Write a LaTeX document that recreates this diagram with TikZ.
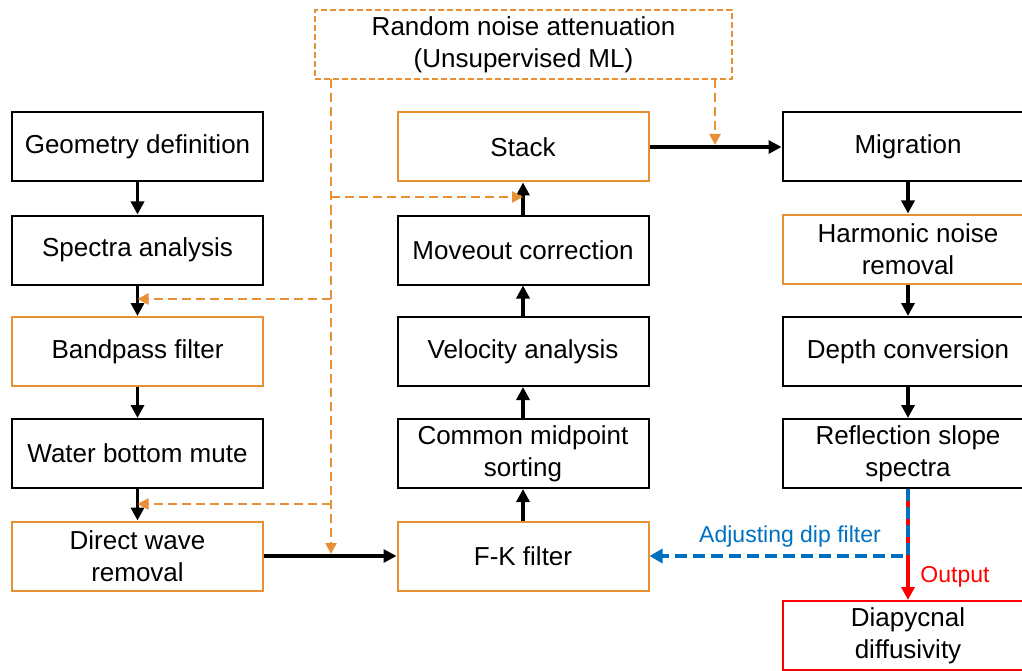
\documentclass[tikz,border=0pt]{standalone}
\usepackage{fontspec}
\setmainfont{Liberation Sans}
\usetikzlibrary{arrows.meta}
\definecolor{boxorange}{RGB}{232,145,52}
\definecolor{dipblue}{RGB}{0,112,192}
\definecolor{outred}{RGB}{255,0,0}

\begin{document}
\begin{tikzpicture}[x=1pt,y=-1pt,
    box/.style={draw,line width=2pt,minimum width=251pt,minimum height=69pt,
      align=center,inner sep=2pt,font=\fontsize{26pt}{32pt}\selectfont},
    obox/.style={box,draw=boxorange},
    flow/.style={line width=3.5pt,-{Triangle[length=13pt,width=13pt]}},
    noise/.style={boxorange,line width=2.5pt,dash pattern=on 9pt off 5pt,
      -{Triangle[length=11pt,width=11pt]}},
    lbl/.style={font=\fontsize{23pt}{26pt}\selectfont}]
  \clip (0,0) rectangle (1022,671);
  % top box
  \node[obox,dash pattern=on 6pt off 3pt,minimum width=417pt] (rna) at (523.5,45)
    {Random noise attenuation\\(Unsupervised ML)};
  % left column
  \node[box]  (geo)  at (137.5,147)   {Geometry definition};
  \node[box]  (spec) at (137.5,250)   {Spectra analysis};
  \node[obox] (bp)   at (137.5,351.5) {Bandpass filter};
  \node[box]  (wbm)  at (137.5,453.5) {Water bottom mute};
  \node[obox] (dwr)  at (137.5,556)   {Direct wave\\removal};
  % middle column
  \node[obox] (stack) at (523,147)   {Stack};
  \node[box]  (mo)    at (523,250)   {Moveout correction};
  \node[box]  (vel)   at (523,351.5) {Velocity analysis};
  \node[box]  (cmp)   at (523,453.5) {Common midpoint\\sorting};
  \node[obox] (fk)    at (523,556)   {F-K filter};
  % right column
  \node[box]  (mig)   at (908,147)   {Migration};
  \node[obox] (harm)  at (908,249)   {Harmonic noise\\removal};
  \node[box]  (depth) at (908,351.5) {Depth conversion};
  \node[box]  (refl)  at (908,453.5) {Reflection slope\\spectra};
  \node[box,draw=outred] (diap) at (908,635.5) {Diapycnal\\diffusivity};

  \draw[flow] (geo) -- (spec);
  \draw[flow] (spec) -- (bp);
  \draw[flow] (bp) -- (wbm);
  \draw[flow] (wbm) -- (dwr);
  \draw[flow] (dwr) -- (fk);
  \draw[flow] (fk) -- (cmp);
  \draw[flow] (cmp) -- (vel);
  \draw[flow] (vel) -- (mo);
  \draw[flow] (mo) -- (stack);
  \draw[flow] (stack) -- (mig);
  \draw[flow] (mig) -- (harm);
  \draw[flow] (harm) -- (depth);
  \draw[flow] (depth) -- (refl);

  % dashed noise taps
  \coordinate (tapL) at (331,79.5);
  \coordinate (tapR) at (715,79.5);
  \coordinate (kS) at (331,197);
  \coordinate (kB) at (331,299);
  \coordinate (kW) at (331,504);
  \draw[noise,shorten >=2pt] (tapL) -- (tapL |- dwr);
  \draw[noise,shorten >=2pt] (tapR) -- (tapR |- stack);
  \draw[noise] (kS) -- (kS -| stack);
  \draw[noise] (kB) -- (kB -| bp);
  \draw[noise] (kW) -- (kW -| wbm);

  % output and dip filter feedback
  \coordinate (jn) at (refl |- fk);
  \draw[flow,outred] (refl) -- (diap);
  \draw[dipblue,line width=3.5pt,dash pattern=on 12pt off 6pt,
    -{Triangle[length=13pt,width=14pt]}] (refl.south) -- (jn) -- (fk.east);
  \node[lbl,dipblue] (adj) at (790,537) {Adjusting dip filter};
  \node[lbl,outred] (out) at (955,577) {Output};
\end{tikzpicture}
\end{document}
